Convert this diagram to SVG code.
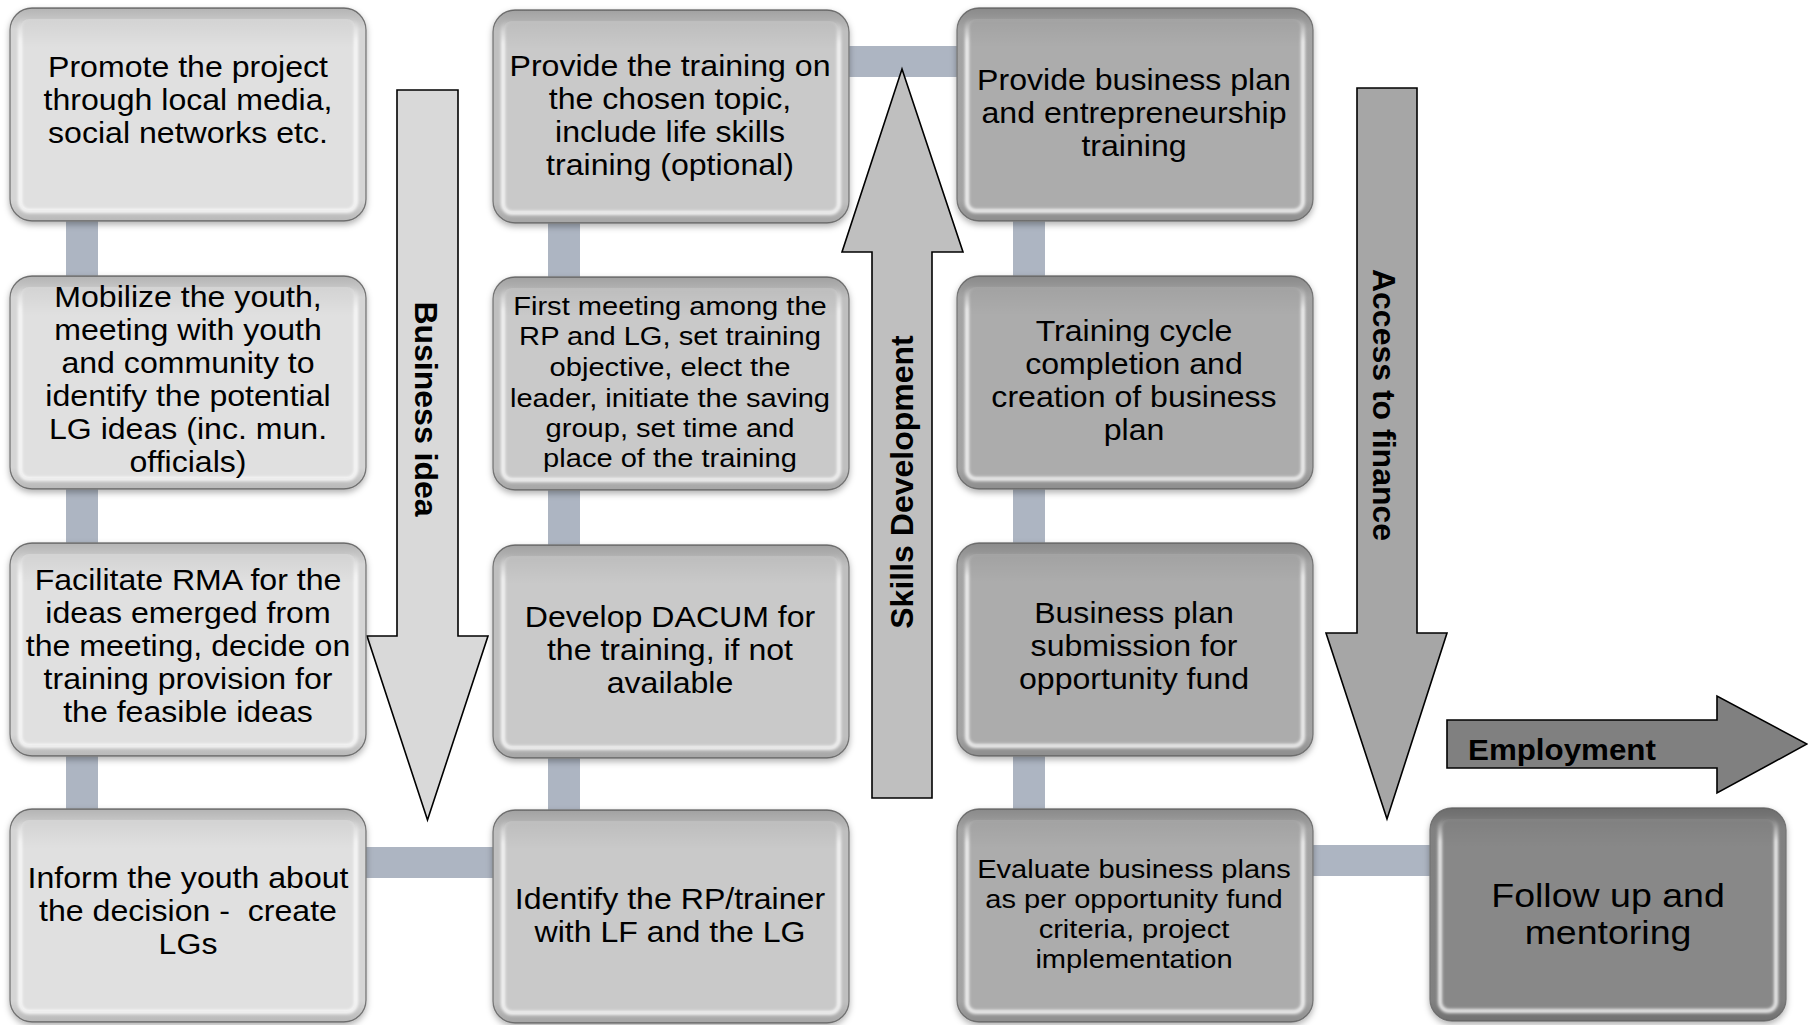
<svg xmlns="http://www.w3.org/2000/svg" width="1808" height="1025" viewBox="0 0 1808 1025">
  <defs>
    <filter id="sh" x="-5%" y="-5%" width="110%" height="115%">
      <feDropShadow dx="0" dy="3" stdDeviation="3" flood-color="#000" flood-opacity="0.3"/>
    </filter>
    <filter id="soft" x="-5%" y="-5%" width="110%" height="110%">
      <feGaussianBlur stdDeviation="1.4"/>
    </filter>
    <!-- darkening toward the outer rim of each bevel -->
    <linearGradient id="rimShade" x1="0" y1="0" x2="0" y2="1">
      <stop offset="0" stop-color="#000" stop-opacity="0.2"/>
      <stop offset="0.1" stop-color="#000" stop-opacity="0.05"/>
      <stop offset="0.9" stop-color="#000" stop-opacity="0.05"/>
      <stop offset="1" stop-color="#000" stop-opacity="0.18"/>
    </linearGradient>
    <!-- inner highlight on sides and bottom of the bevel -->
    <linearGradient id="hiGrad" x1="0" y1="0" x2="0" y2="1">
      <stop offset="0" stop-color="#fff" stop-opacity="0"/>
      <stop offset="0.12" stop-color="#fff" stop-opacity="0.85"/>
      <stop offset="1" stop-color="#fff" stop-opacity="0.85"/>
    </linearGradient>
    <linearGradient id="faceGrad" x1="0" y1="0" x2="0" y2="1">
      <stop offset="0" stop-color="#000" stop-opacity="0.06"/>
      <stop offset="0.15" stop-color="#000" stop-opacity="0"/>
    </linearGradient>
  </defs>
  <style>
    .rim { stroke:#7a7a7a; stroke-width:1.3; }
    .shade { fill:url(#rimShade); }
    .hi { fill:none; stroke:url(#hiGrad); stroke-width:4; }
    .fg { fill:url(#faceGrad); }
    .c1 .rim, .c1 .face { fill:#e0e0e0; }
    .c2 .rim, .c2 .face { fill:#c9c9c9; }
    .c3 .rim, .c3 .face { fill:#acacac; }
    .c4 .rim, .c4 .face { fill:#888888; }
    .t { font-family:"Liberation Sans", Arial, sans-serif; font-size:30px; fill:#000; text-anchor:middle; }
    .ts { font-size:26.7px; }
    .tl { font-size:33.5px; }
    .lbl { font-family:"Liberation Sans", Arial, sans-serif; font-size:32px; font-weight:bold; fill:#000; text-anchor:middle; }
    .link { fill:#adb5c2; }
    .arrow { stroke:#000; stroke-width:1.6; stroke-linejoin:miter; }
  </style>

  <!-- connectors between the steps -->
  <g id="connectors">
    <rect class="link" x="66" y="200" width="32" height="630"/>
    <rect class="link" x="548" y="200" width="32" height="630"/>
    <rect class="link" x="1013" y="200" width="32" height="630"/>
    <rect class="link" x="355" y="847" width="150" height="31"/>
    <rect class="link" x="835" y="46" width="135" height="31"/>
    <rect class="link" x="1300" y="845" width="140" height="31"/>
  </g>

  <!-- phase arrows -->
  <g id="arrow-business-idea">
    <path class="arrow" fill="#d9d9d9" d="M397,90 H458 V636 H488 L427.5,820 L367,636 H397 Z"/>
    <text class="lbl" transform="translate(415 409) rotate(90)" x="0" y="0">Business idea</text>
  </g>
  <g id="arrow-skills">
    <path class="arrow" fill="#bfbfbf" d="M872,798 V252 H842 L902,69 L963,252 H932 V798 Z"/>
    <text class="lbl" transform="translate(913 482) rotate(-90)" x="0" y="0">Skills Development</text>
  </g>
  <g id="arrow-finance">
    <path class="arrow" fill="#a6a6a6" d="M1357,88 H1417 V633 H1447 L1387,819 L1326,633 H1357 Z"/>
    <text class="lbl" transform="translate(1373 405) rotate(90)" x="0" y="0">Access to finance</text>
  </g>
  <g id="arrow-employment">
    <path class="arrow" fill="#808080" d="M1447,720 H1717 V696 L1807,744 L1717,793 V768 H1447 Z"/>
    <text class="lbl" transform="translate(1468 0) scale(1.08 1)" x="0" y="760" style="text-anchor:start;font-size:29px">Employment</text>
  </g>

  <!-- column 1 -->
  <g id="n-promote" class="c1">
    <rect class="rim" x="10" y="8" width="356" height="213" rx="22" filter="url(#sh)"/>
    <rect class="shade" x="10" y="8" width="356" height="213" rx="22"/>
    <rect class="face" x="21" y="19" width="334" height="191" rx="8"/>
    <rect class="fg" x="21" y="19" width="334" height="191" rx="8"/>
    <rect class="hi" x="20" y="18" width="336" height="193" rx="9" filter="url(#soft)"/>
    <text class="t" transform="translate(188 0) scale(1.07 1)"><tspan x="0" y="77">Promote the project</tspan><tspan x="0" y="110">through local media,</tspan><tspan x="0" y="143">social networks etc.</tspan></text>
  </g>
  <g id="n-mobilize" class="c1">
    <rect class="rim" x="10" y="276" width="356" height="213" rx="22" filter="url(#sh)"/>
    <rect class="shade" x="10" y="276" width="356" height="213" rx="22"/>
    <rect class="face" x="21" y="287" width="334" height="191" rx="8"/>
    <rect class="fg" x="21" y="287" width="334" height="191" rx="8"/>
    <rect class="hi" x="20" y="286" width="336" height="193" rx="9" filter="url(#soft)"/>
    <text class="t" transform="translate(188 0) scale(1.07 1)"><tspan x="0" y="307">Mobilize the youth,</tspan><tspan x="0" y="340">meeting with youth</tspan><tspan x="0" y="373">and community to</tspan><tspan x="0" y="406">identify the potential</tspan><tspan x="0" y="439">LG ideas (inc. mun.</tspan><tspan x="0" y="472">officials)</tspan></text>
  </g>
  <g id="n-rma" class="c1">
    <rect class="rim" x="10" y="543" width="356" height="213" rx="22" filter="url(#sh)"/>
    <rect class="shade" x="10" y="543" width="356" height="213" rx="22"/>
    <rect class="face" x="21" y="554" width="334" height="191" rx="8"/>
    <rect class="fg" x="21" y="554" width="334" height="191" rx="8"/>
    <rect class="hi" x="20" y="553" width="336" height="193" rx="9" filter="url(#soft)"/>
    <text class="t" transform="translate(188 0) scale(1.07 1)"><tspan x="0" y="590">Facilitate RMA for the</tspan><tspan x="0" y="623">ideas emerged from</tspan><tspan x="0" y="656">the meeting, decide on</tspan><tspan x="0" y="689">training provision for</tspan><tspan x="0" y="722">the feasible ideas</tspan></text>
  </g>
  <g id="n-inform" class="c1">
    <rect class="rim" x="10" y="809" width="356" height="213" rx="22" filter="url(#sh)"/>
    <rect class="shade" x="10" y="809" width="356" height="213" rx="22"/>
    <rect class="face" x="21" y="820" width="334" height="191" rx="8"/>
    <rect class="fg" x="21" y="820" width="334" height="191" rx="8"/>
    <rect class="hi" x="20" y="819" width="336" height="193" rx="9" filter="url(#soft)"/>
    <text class="t" transform="translate(188 0) scale(1.07 1)" xml:space="preserve"><tspan x="0" y="888">Inform the youth about</tspan><tspan x="0" y="921">the decision -  create</tspan><tspan x="0" y="954">LGs</tspan></text>
  </g>

  <!-- column 2 -->
  <g id="n-training" class="c2">
    <rect class="rim" x="493" y="10" width="356" height="213" rx="22" filter="url(#sh)"/>
    <rect class="shade" x="493" y="10" width="356" height="213" rx="22"/>
    <rect class="face" x="504" y="21" width="334" height="191" rx="8"/>
    <rect class="fg" x="504" y="21" width="334" height="191" rx="8"/>
    <rect class="hi" x="503" y="20" width="336" height="193" rx="9" filter="url(#soft)"/>
    <text class="t" transform="translate(670 0) scale(1.07 1)"><tspan x="0" y="76">Provide the training on</tspan><tspan x="0" y="109">the chosen topic,</tspan><tspan x="0" y="142">include life skills</tspan><tspan x="0" y="175">training (optional)</tspan></text>
  </g>
  <g id="n-meeting" class="c2">
    <rect class="rim" x="493" y="277" width="356" height="213" rx="22" filter="url(#sh)"/>
    <rect class="shade" x="493" y="277" width="356" height="213" rx="22"/>
    <rect class="face" x="504" y="288" width="334" height="191" rx="8"/>
    <rect class="fg" x="504" y="288" width="334" height="191" rx="8"/>
    <rect class="hi" x="503" y="287" width="336" height="193" rx="9" filter="url(#soft)"/>
    <text class="t ts" transform="translate(670 0) scale(1.09 1)"><tspan x="0" y="315">First meeting among the</tspan><tspan x="0" y="345">RP and LG, set training</tspan><tspan x="0" y="376">objective, elect the</tspan><tspan x="0" y="407">leader, initiate the saving</tspan><tspan x="0" y="437">group, set time and</tspan><tspan x="0" y="467">place of the training</tspan></text>
  </g>
  <g id="n-dacum" class="c2">
    <rect class="rim" x="493" y="545" width="356" height="213" rx="22" filter="url(#sh)"/>
    <rect class="shade" x="493" y="545" width="356" height="213" rx="22"/>
    <rect class="face" x="504" y="556" width="334" height="191" rx="8"/>
    <rect class="fg" x="504" y="556" width="334" height="191" rx="8"/>
    <rect class="hi" x="503" y="555" width="336" height="193" rx="9" filter="url(#soft)"/>
    <text class="t" transform="translate(670 0) scale(1.07 1)"><tspan x="0" y="627">Develop DACUM for</tspan><tspan x="0" y="660">the training, if not</tspan><tspan x="0" y="693">available</tspan></text>
  </g>
  <g id="n-identify" class="c2">
    <rect class="rim" x="493" y="810" width="356" height="213" rx="22" filter="url(#sh)"/>
    <rect class="shade" x="493" y="810" width="356" height="213" rx="22"/>
    <rect class="face" x="504" y="821" width="334" height="191" rx="8"/>
    <rect class="fg" x="504" y="821" width="334" height="191" rx="8"/>
    <rect class="hi" x="503" y="820" width="336" height="193" rx="9" filter="url(#soft)"/>
    <text class="t" transform="translate(670 0) scale(1.07 1)"><tspan x="0" y="909">Identify the RP/trainer</tspan><tspan x="0" y="942">with LF and the LG</tspan></text>
  </g>

  <!-- column 3 -->
  <g id="n-bizplan" class="c3">
    <rect class="rim" x="957" y="8" width="356" height="213" rx="22" filter="url(#sh)"/>
    <rect class="shade" x="957" y="8" width="356" height="213" rx="22"/>
    <rect class="face" x="968" y="19" width="334" height="191" rx="8"/>
    <rect class="fg" x="968" y="19" width="334" height="191" rx="8"/>
    <rect class="hi" x="967" y="18" width="336" height="193" rx="9" filter="url(#soft)"/>
    <text class="t" transform="translate(1134 0) scale(1.07 1)"><tspan x="0" y="90">Provide business plan</tspan><tspan x="0" y="123">and entrepreneurship</tspan><tspan x="0" y="156">training</tspan></text>
  </g>
  <g id="n-cycle" class="c3">
    <rect class="rim" x="957" y="276" width="356" height="213" rx="22" filter="url(#sh)"/>
    <rect class="shade" x="957" y="276" width="356" height="213" rx="22"/>
    <rect class="face" x="968" y="287" width="334" height="191" rx="8"/>
    <rect class="fg" x="968" y="287" width="334" height="191" rx="8"/>
    <rect class="hi" x="967" y="286" width="336" height="193" rx="9" filter="url(#soft)"/>
    <text class="t" transform="translate(1134 0) scale(1.07 1)"><tspan x="0" y="341">Training cycle</tspan><tspan x="0" y="374">completion and</tspan><tspan x="0" y="407">creation of business</tspan><tspan x="0" y="440">plan</tspan></text>
  </g>
  <g id="n-submission" class="c3">
    <rect class="rim" x="957" y="543" width="356" height="213" rx="22" filter="url(#sh)"/>
    <rect class="shade" x="957" y="543" width="356" height="213" rx="22"/>
    <rect class="face" x="968" y="554" width="334" height="191" rx="8"/>
    <rect class="fg" x="968" y="554" width="334" height="191" rx="8"/>
    <rect class="hi" x="967" y="553" width="336" height="193" rx="9" filter="url(#soft)"/>
    <text class="t" transform="translate(1134 0) scale(1.07 1)"><tspan x="0" y="623">Business plan</tspan><tspan x="0" y="656">submission for</tspan><tspan x="0" y="689">opportunity fund</tspan></text>
  </g>
  <g id="n-evaluate" class="c3">
    <rect class="rim" x="957" y="809" width="356" height="213" rx="22" filter="url(#sh)"/>
    <rect class="shade" x="957" y="809" width="356" height="213" rx="22"/>
    <rect class="face" x="968" y="820" width="334" height="191" rx="8"/>
    <rect class="fg" x="968" y="820" width="334" height="191" rx="8"/>
    <rect class="hi" x="967" y="819" width="336" height="193" rx="9" filter="url(#soft)"/>
    <text class="t ts" transform="translate(1134 0) scale(1.09 1)"><tspan x="0" y="878">Evaluate business plans</tspan><tspan x="0" y="908">as per opportunity fund</tspan><tspan x="0" y="938">criteria, project</tspan><tspan x="0" y="968">implementation</tspan></text>
  </g>

  <!-- column 4 -->
  <g id="n-followup" class="c4">
    <rect class="rim" x="1430" y="808" width="356" height="213" rx="22" filter="url(#sh)"/>
    <rect class="shade" x="1430" y="808" width="356" height="213" rx="22"/>
    <rect class="face" x="1441" y="819" width="334" height="191" rx="8"/>
    <rect class="fg" x="1441" y="819" width="334" height="191" rx="8"/>
    <rect class="hi" x="1440" y="818" width="336" height="193" rx="9" filter="url(#soft)"/>
    <text class="t tl" transform="translate(1608 0) scale(1.12 1)"><tspan x="0" y="907">Follow up and</tspan><tspan x="0" y="944">mentoring</tspan></text>
  </g>
</svg>
